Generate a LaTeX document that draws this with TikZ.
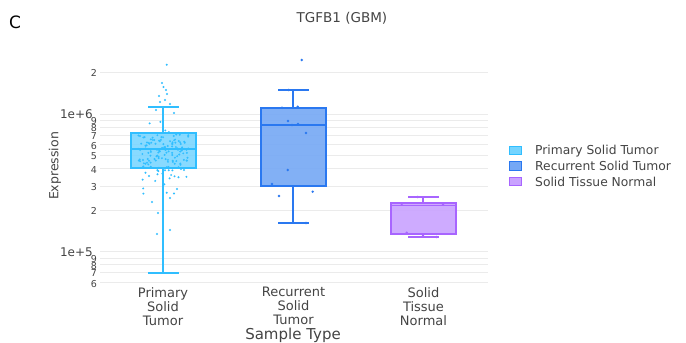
\documentclass[tikz,border=0pt]{standalone}
\usepackage{fontspec}
\setmainfont{DejaVu Sans}
\definecolor{txt}{HTML}{444444}
\definecolor{grid}{HTML}{EBEBEB}
\definecolor{pstroke}{HTML}{30BEFF}
\definecolor{pfill}{HTML}{74D4FF}
\definecolor{rstroke}{HTML}{2A78F0}
\definecolor{rfill}{HTML}{75A8F5}
\definecolor{nstroke}{HTML}{A865FF}
\definecolor{nfill}{HTML}{C9A2FF}
\tikzset{
  gridline/.style={grid, line width=0.9pt},
  majlab/.style={anchor=east, text=txt, font=\fontsize{12}{14}\selectfont, inner sep=0pt},
  minlab/.style={anchor=east, text=txt, font=\fontsize{9.5}{11}\selectfont, inner sep=0pt},
  catlab/.style={anchor=north, text=txt, align=center, font=\fontsize{13}{14}\selectfont, inner sep=0pt},
  legtxt/.style={anchor=west, text=txt, font=\fontsize{12.3}{14}\selectfont, inner sep=0pt},
  whisk/.style={line width=1.7pt},
  pdot/.style={fill=pstroke},
  rdot/.style={fill=rstroke},
  ndot/.style={fill=nstroke},
  legbox/.style={line width=1pt, minimum width=12pt, minimum height=8.5pt, inner sep=0pt},
}
\begin{document}
\begin{tikzpicture}[x=1pt,y=-1pt]
\useasboundingbox (0,0) rectangle (686,343);
\fill[white] (0,0) rectangle (686,343);

% log-scale grid: y = 114 - 138*log10(v/1e6)
\foreach \v in {2,1,0.9,0.8,0.7,0.6,0.5,0.4,0.3,0.2,0.1,0.09,0.08,0.07,0.06}{
  \pgfmathsetmacro\yy{114-138*log10(\v)}
  \draw[gridline] (100,\yy) -- (488,\yy);
}
% tick labels
\node[minlab] (t2M) at (97,72.5) {2};
\node[majlab] (t1M) at (93,114) {1e+6};
\foreach \d/\v in {9/0.9,8/0.8,7/0.7,6/0.6,5/0.5,4/0.4,3/0.3,2/0.2}{
  \pgfmathsetmacro\yy{114-138*log10(\v)}
  \node[minlab] at (97,\yy+1) {\d};
}
\node[majlab] (t1e5) at (93,252) {1e+5};
\foreach \d/\v in {9/0.09,8/0.08,7/0.07,6/0.06}{
  \pgfmathsetmacro\yy{114-138*log10(\v)}
  \node[minlab] at (97,\yy+1) {\d};
}

% titles
\node[anchor=west, font=\fontsize{17}{19}\selectfont, inner sep=0pt] (panel) at (9,22) {C};
\node[text=txt, font=\fontsize{13.5}{15}\selectfont, inner sep=0pt] (title) at (342,18) {TGFB1 (GBM)};
\node[text=txt, rotate=90, font=\fontsize{12.5}{14}\selectfont, inner sep=0pt] (ylab) at (55,166) {Expression};
\node[text=txt, font=\fontsize{15}{17}\selectfont, inner sep=0pt] (xlab) at (293,335) {Sample Type};

% category labels
\node[catlab] (c1) at (163,287) {Primary\\Solid\\Tumor};
\node[catlab] (c2) at (293.5,287) {Recurrent\\Solid\\Tumor};
\node[catlab] (c3) at (423.5,287) {Solid\\Tissue\\Normal};

% ---- Primary Solid Tumor ----
\draw[pstroke, whisk] (163,107.3) -- (163,133.3) (163,167.7) -- (163,272.7);
\draw[pstroke, whisk] (148,107.3) -- (179,107.3) (148,272.7) -- (179,272.7);
\fill[pfill, fill opacity=0.85] (131,133.3) rectangle (196,167.7);
\draw[pstroke, whisk] (131,133.3) rectangle (196,167.7);
\draw[pstroke, whisk] (131,149) -- (196,149);
\pgfmathsetseed{7}
\foreach \i in {1,...,115}{
  \pgfmathsetmacro\px{163+26*rand}
  \pgfmathsetmacro\py{150+12*(rand+rand+rand)}
  \fill[pdot] (\px,\py) circle (1.1pt);
}
\foreach \i in {1,...,28}{
  \pgfmathsetmacro\px{163+24*rand}
  \pgfmathsetmacro\py{158+40*rand}
  \fill[pdot] (\px,\py) circle (1.1pt);
}
\foreach \p in {(166.7,64.7),(162,83),(163.5,87),(166,90),(159,96),(167,94),(165,100),(160,102),(170,104),(156,110),(174,113),(152,202),(170,198),(177,189),(158,213),(163,213),(157,234),(170,230),(184,170),(149,176)}{
  \fill[pdot] \p circle (1.1pt);
}

% ---- Recurrent Solid Tumor ----
\draw[rstroke, whisk] (293,90) -- (293,107.7) (293,185.7) -- (293,223.3);
\draw[rstroke, whisk] (278,90) -- (309,90) (278,223.3) -- (309,223.3);
\fill[rfill, fill opacity=0.9] (261,107.7) rectangle (326,185.7);
\draw[rstroke, whisk] (261,107.7) rectangle (326,185.7);
\draw[rstroke, whisk] (261,125) -- (326,125);
\foreach \p in {(282,107.7),(297.7,106.7),(288,121),(292,125),(298,124),(306,133),(287.7,170),(272,184),(279,196),(312.7,191.7),(288.7,90),(306,223),(301.7,60)}{
  \fill[rdot] \p circle (1.3pt);
}

% ---- Solid Tissue Normal ----
\draw[nstroke, whisk] (423,197.3) -- (423,202.7) (423,234) -- (423,237);
\draw[nstroke, whisk] (408,197.3) -- (439,197.3) (408,237) -- (439,237);
\fill[nfill, fill opacity=0.9] (391,202.7) rectangle (456,234);
\draw[nstroke, whisk] (391,202.7) rectangle (456,234);
\draw[nstroke, whisk] (391,205.5) -- (456,205.5);
\foreach \p in {(401.7,204),(443,204.7),(417.7,197),(406.7,232.7),(423,236),(436.7,237)}{
  \fill[ndot] \p circle (1.3pt);
}

% ---- legend ----
\node[legbox, draw=pstroke, fill=pfill] (lg1) at (515,150.7) {};
\node[legbox, draw=rstroke, fill=rfill] (lg2) at (515,166) {};
\node[legbox, draw=nstroke, fill=nfill] (lg3) at (515,181.7) {};
\node[legtxt] (lt1) at (535,150.7) {Primary Solid Tumor};
\node[legtxt] (lt2) at (535,166) {Recurrent Solid Tumor};
\node[legtxt] (lt3) at (535,181.7) {Solid Tissue Normal};
\end{tikzpicture}
\end{document}
